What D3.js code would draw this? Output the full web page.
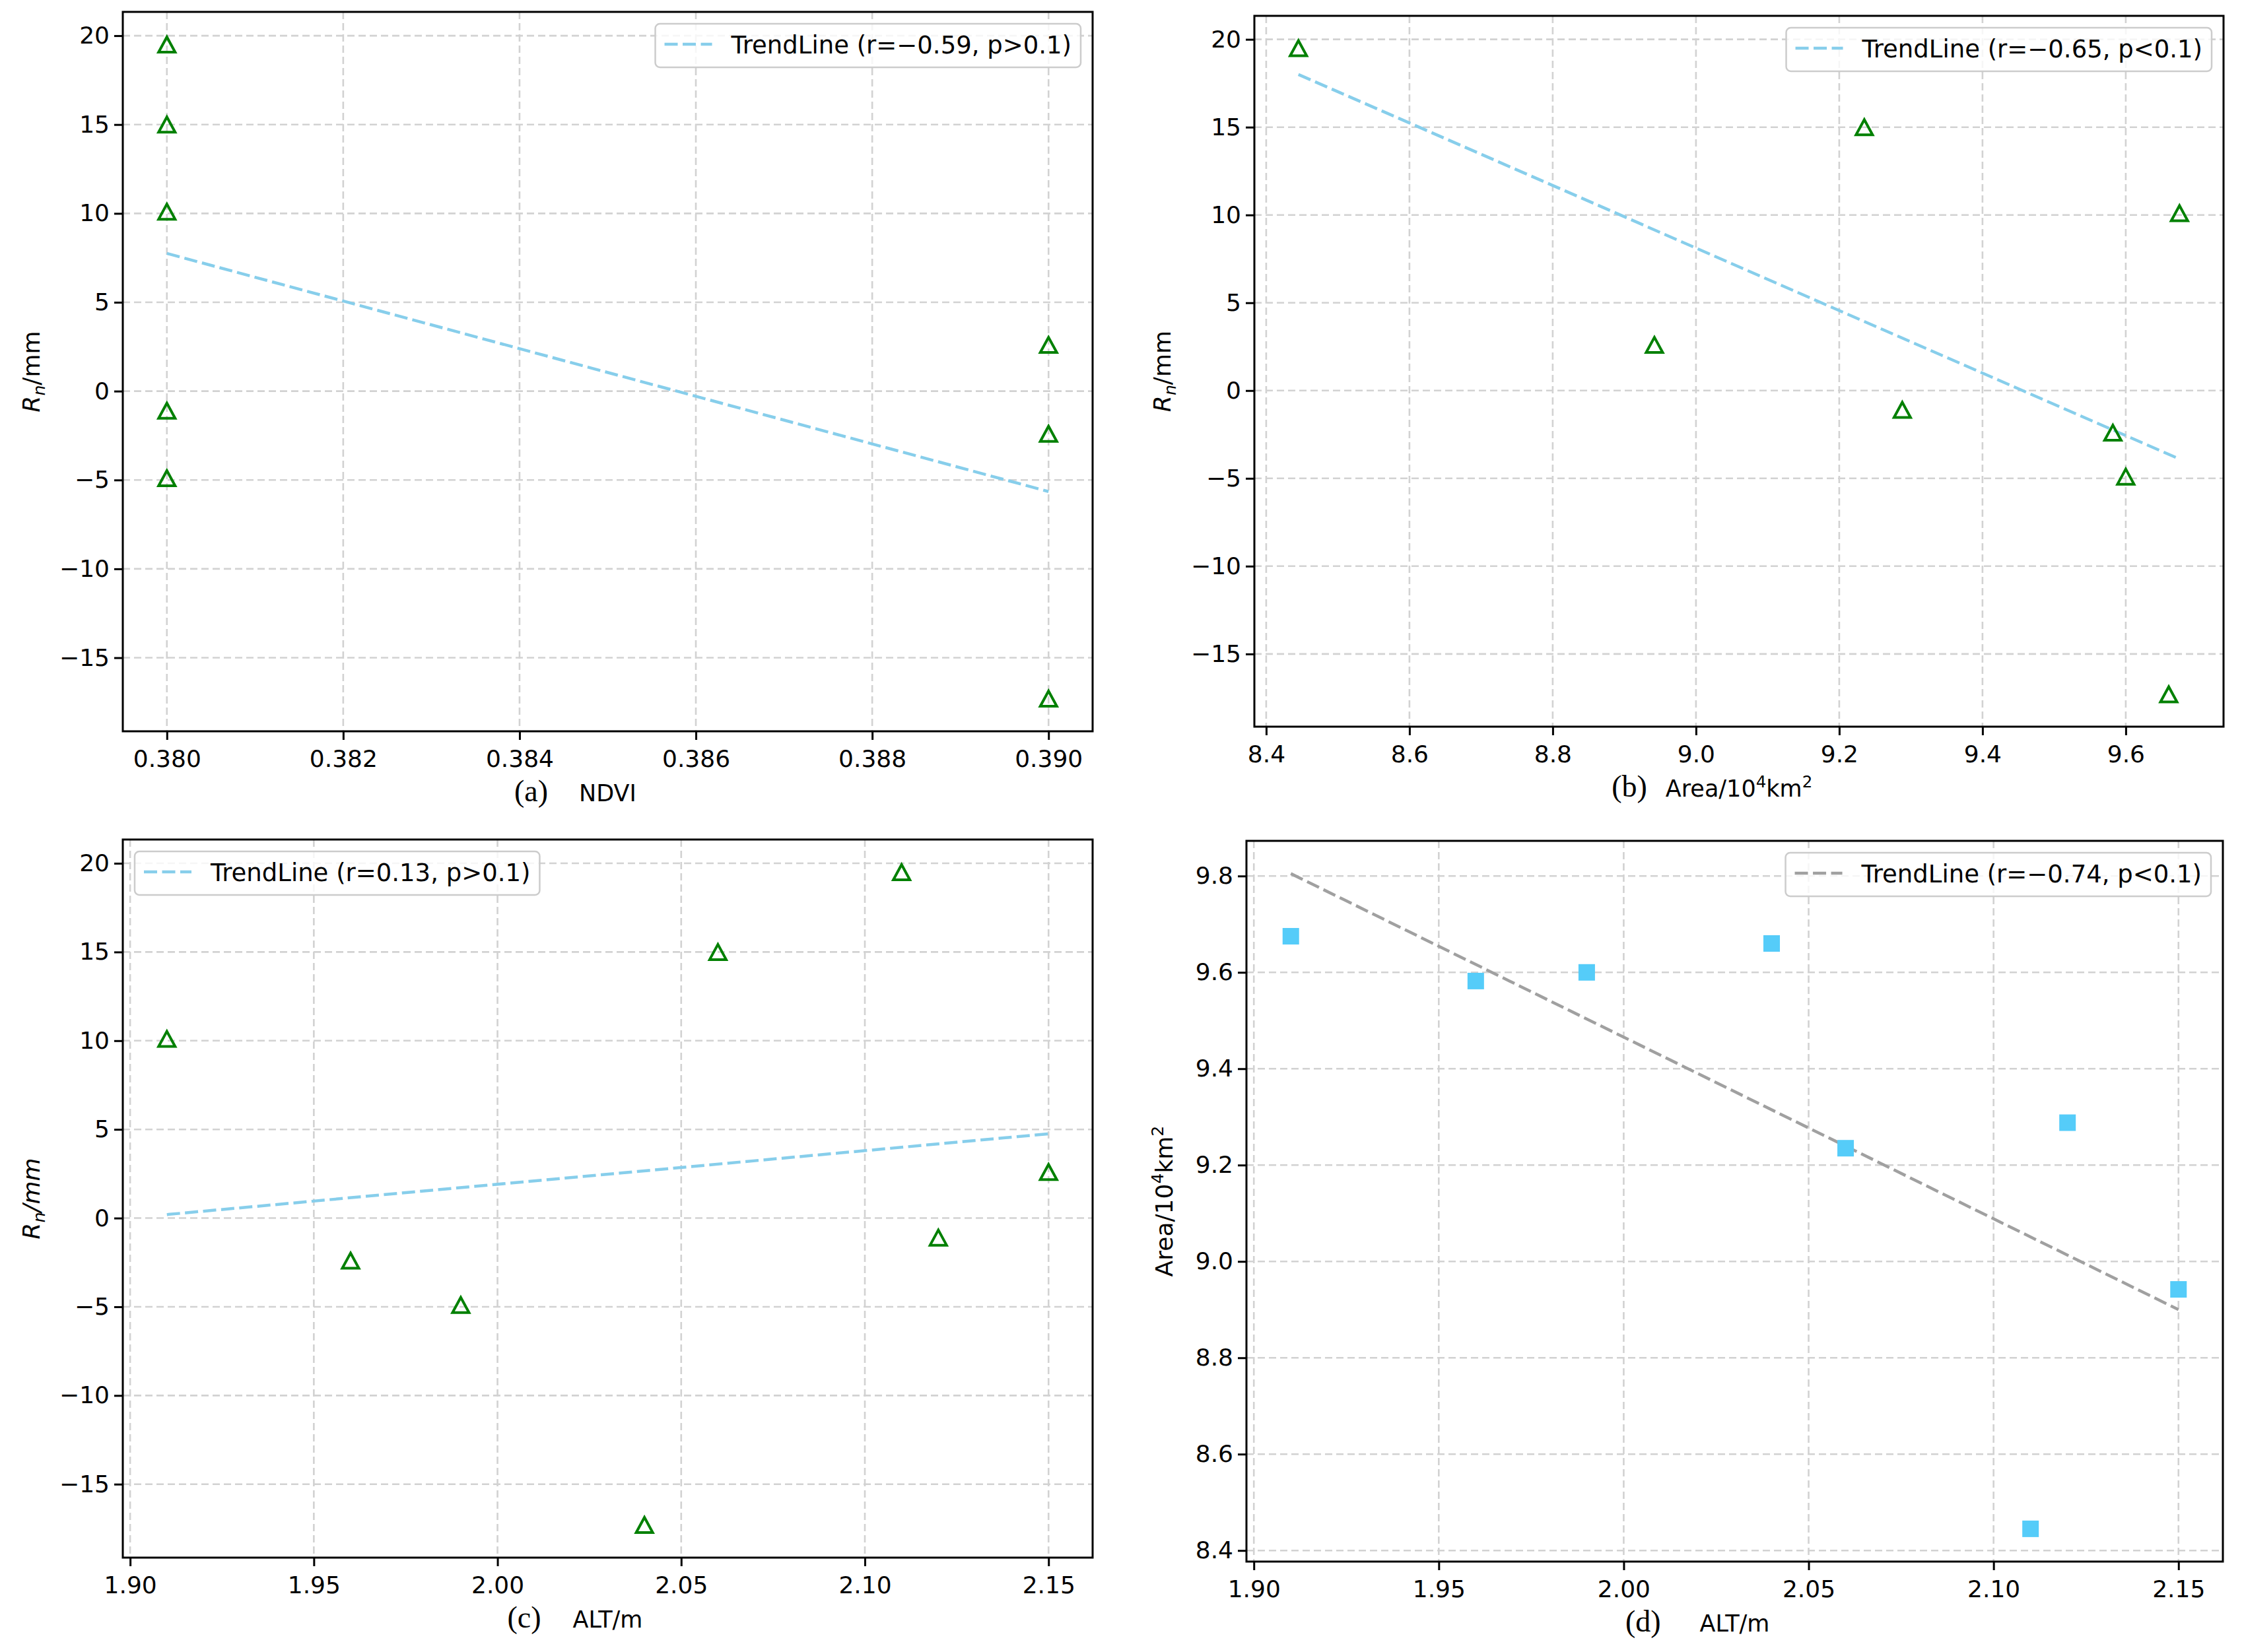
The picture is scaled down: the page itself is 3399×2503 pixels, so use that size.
<!DOCTYPE html>
<html>
<head>
<meta charset="utf-8">
<script src="https://cdn.jsdelivr.net/npm/d3@7"></script>
<style>
  body { margin: 0; background: #fff; }
  text { font-family: "DejaVu Sans", sans-serif; fill: #000; }
</style>
</head>
<body>
<svg id="fig"></svg>
<script>
// eight observations, ordered by ALT
const alt  = [1.91, 1.96, 1.99, 2.04, 2.06, 2.11, 2.12, 2.15];
const area = [9.675, 9.582, 9.600, 9.660, 9.235, 8.445, 9.288, 8.942];
const rn   = [10.1, -2.4, -4.9, -17.3, 15.0, 19.5, -1.1, 2.6];
const ndvi = [0.380, 0.390, 0.380, 0.390, 0.380, 0.380, 0.380, 0.390];

// trend line end points
const trendNdviX = [0.380, 0.390], trendNdviY = [7.75, -5.65];
const trendAreaX = [8.445, 9.675], trendAreaY = [18.0, -3.9];
const trendAltX  = [1.91, 2.15],   trendAltY  = [0.2, 4.75];
const trendAltAreaX = [1.91, 2.15], trendAltAreaY = [9.805, 8.9];

const legendTexts = [
  "TrendLine (r=\u22120.59, p>0.1)",
  "TrendLine (r=\u22120.65, p<0.1)",
  "TrendLine (r=0.13, p>0.1)",
  "TrendLine (r=\u22120.74, p<0.1)"
];

const xTicksNdvi = [0.380, 0.382, 0.384, 0.386, 0.388, 0.390];
const xTicksArea = [8.4, 8.6, 8.8, 9.0, 9.2, 9.4, 9.6];
const xTicksAlt  = [1.90, 1.95, 2.00, 2.05, 2.10, 2.15];
const yTicksRn   = [-15, -10, -5, 0, 5, 10, 15, 20];
const yTicksArea = [8.4, 8.6, 8.8, 9.0, 9.2, 9.4, 9.6, 9.8];

const W = 3399, H = 2503;
const green = "#008000", sky = "#87ceeb", grayLine = "#a0a0a0", squareBlue = "#55ccf9";

const svg = d3.select("#fig").attr("width", W).attr("height", H);
svg.append("rect").attr("width", W).attr("height", H).attr("fill", "#fff");

const panels = [
  { tag: "(a)", xs: ndvi, ys: rn, tx: trendNdviX, ty: trendNdviY, legend: legendTexts[0],
    box: [186, 18, 1655, 1108], xticks: xTicksNdvi, xfmt: ".3f", yticks: yTicksRn, yfmt: "d",
    marker: "tri", lineColor: sky, legendPos: "right", xlabel: "ndvi", ylabel: "rn", ylabOff: 139, tagGap: 47 },
  { tag: "(b)", xs: area, ys: rn, tx: trendAreaX, ty: trendAreaY, legend: legendTexts[1],
    box: [1900, 24, 3368, 1101], xticks: xTicksArea, xfmt: ".1f", yticks: yTicksRn, yfmt: "d",
    marker: "tri", lineColor: sky, legendPos: "right", xlabel: "area", ylabel: "rn", ylabOff: 140, tagGap: 28 },
  { tag: "(c)", xs: alt, ys: rn, tx: trendAltX, ty: trendAltY, legend: legendTexts[2],
    box: [186, 1272, 1655, 2360], xticks: xTicksAlt, xfmt: ".2f", yticks: yTicksRn, yfmt: "d",
    marker: "tri", lineColor: sky, legendPos: "left", xlabel: "alt", ylabel: "rnItalic", ylabOff: 139, tagGap: 48 },
  { tag: "(d)", xs: alt, ys: area, tx: trendAltAreaX, ty: trendAltAreaY, legend: legendTexts[3],
    box: [1888, 1274, 3367, 2366], xticks: xTicksAlt, xfmt: ".2f", yticks: yTicksArea, yfmt: ".1f",
    marker: "sq", lineColor: grayLine, legendPos: "right", xlabel: "alt", ylabel: "area", ylabOff: 125, tagGap: 59 }
];

// matplotlib-like autoscale: data extent padded by 5%
function padded(a, b) {
  const ext = d3.extent(a.concat(b));
  const m = (ext[1] - ext[0]) * 0.05;
  return [ext[0] - m, ext[1] + m];
}

function writeLabel(sel, kind) {
  if (kind === "ndvi") sel.text("NDVI");
  else if (kind === "alt") sel.text("ALT/m");
  else if (kind === "area") {
    sel.append("tspan").text("Area/10");
    sel.append("tspan").attr("font-size", "70%").attr("dy", -14).text("4");
    sel.append("tspan").attr("dy", 14).text("km");
    sel.append("tspan").attr("font-size", "70%").attr("dy", -14).text("2");
  } else {
    sel.append("tspan").attr("font-style", "italic").text("R");
    sel.append("tspan").attr("font-style", "italic").attr("font-size", "70%").attr("dy", 8).text("n");
    sel.append("tspan").attr("dy", -8).attr("font-style", kind === "rnItalic" ? "italic" : "normal")
      .text("/mm");
  }
}

panels.forEach(p => {
  const [x0, y0, x1, y1] = p.box;
  const x = d3.scaleLinear().domain(padded(p.xs, p.tx)).range([x0, x1]);
  const y = d3.scaleLinear().domain(padded(p.ys, p.ty)).range([y1, y0]);
  const g = svg.append("g");

  // grid
  g.append("g").selectAll("line").data(p.xticks).join("line")
    .attr("x1", d => x(d)).attr("x2", d => x(d)).attr("y1", y0).attr("y2", y1);
  g.append("g").selectAll("line").data(p.yticks).join("line")
    .attr("x1", x0).attr("x2", x1).attr("y1", d => y(d)).attr("y2", d => y(d));
  g.selectAll("g line").attr("stroke", "#d2d2d2").attr("stroke-width", 2.6)
    .attr("stroke-dasharray", "11,6");

  // trend line
  g.append("path")
    .datum(d3.zip(p.tx, p.ty))
    .attr("d", d3.line().x(d => x(d[0])).y(d => y(d[1])))
    .attr("fill", "none").attr("stroke", p.lineColor).attr("stroke-width", 4.5)
    .attr("stroke-dasharray", "20,7.5");

  // points
  const pts = d3.zip(p.xs, p.ys);
  if (p.marker === "tri") {
    g.append("g").selectAll("path").data(pts).join("path")
      .attr("transform", d => `translate(${x(d[0])},${y(d[1])})`)
      .attr("d", "M0,-11.5L12.5,11.5L-12.5,11.5Z")
      .attr("fill", "none").attr("stroke", green).attr("stroke-width", 4)
      .attr("stroke-linejoin", "miter");
  } else {
    g.append("g").selectAll("rect").data(pts).join("rect")
      .attr("x", d => x(d[0]) - 12.5).attr("y", d => y(d[1]) - 12.5)
      .attr("width", 25).attr("height", 25).attr("fill", squareBlue);
  }

  // frame
  g.append("rect").attr("x", x0).attr("y", y0).attr("width", x1 - x0).attr("height", y1 - y0)
    .attr("fill", "none").attr("stroke", "#000").attr("stroke-width", 3);

  // axes
  const ax = g.append("g").attr("transform", `translate(0,${y1})`)
    .call(d3.axisBottom(x).tickValues(p.xticks).tickFormat(d3.format(p.xfmt))
      .tickSize(13).tickSizeOuter(0).tickPadding(15));
  const ay = g.append("g").attr("transform", `translate(${x0},0)`)
    .call(d3.axisLeft(y).tickValues(p.yticks).tickFormat(d3.format(p.yfmt))
      .tickSize(13).tickSizeOuter(0).tickPadding(7));
  [ax, ay].forEach(a => {
    a.select(".domain").remove();
    a.selectAll(".tick line").attr("stroke", "#000").attr("stroke-width", 3);
    a.selectAll(".tick text").attr("font-size", 36).attr("font-family", "DejaVu Sans").attr("fill", "#000");
  });

  // x label + panel tag
  const cx = (x0 + x1) / 2, base = y1 + 106;
  const xl = g.append("text").attr("x", cx).attr("y", base).attr("text-anchor", "middle")
    .attr("font-size", 35);
  writeLabel(xl, p.xlabel);
  const left = xl.node().getBBox().x;
  g.append("text").attr("x", left - p.tagGap).attr("y", base).attr("text-anchor", "end")
    .style("font-family", "'Liberation Serif', 'Times New Roman', serif")
    .attr("font-size", 46).text(p.tag);

  // y label
  const lx = x0 - p.ylabOff, ly = (y0 + y1) / 2;
  const yl = g.append("text").attr("transform", `translate(${lx},${ly}) rotate(-90)`)
    .attr("text-anchor", "middle").attr("dy", "0.35em").attr("font-size", 36);
  writeLabel(yl, p.ylabel);

  // legend
  const lg = g.append("g");
  const bg = lg.append("rect");
  const lt = lg.append("text").attr("font-size", 37).text(p.legend);
  const tw = lt.node().getComputedTextLength();
  const bw = 14 + 72 + 29 + tw + 14, bh = 66;
  const bx = p.legendPos === "left" ? x0 + 18 : x1 - 18 - bw, by = y0 + 18;
  bg.attr("x", bx).attr("y", by).attr("width", bw).attr("height", bh).attr("rx", 7)
    .attr("fill", "#fff").attr("fill-opacity", 0.8).attr("stroke", "#cccccc").attr("stroke-width", 2.5);
  lg.append("line").attr("x1", bx + 14).attr("x2", bx + 86).attr("y1", by + 31).attr("y2", by + 31)
    .attr("stroke", p.lineColor).attr("stroke-width", 4.5).attr("stroke-dasharray", "20,7.5");
  lt.attr("x", bx + 115).attr("y", by + 45);
});
</script>
</body>
</html>
